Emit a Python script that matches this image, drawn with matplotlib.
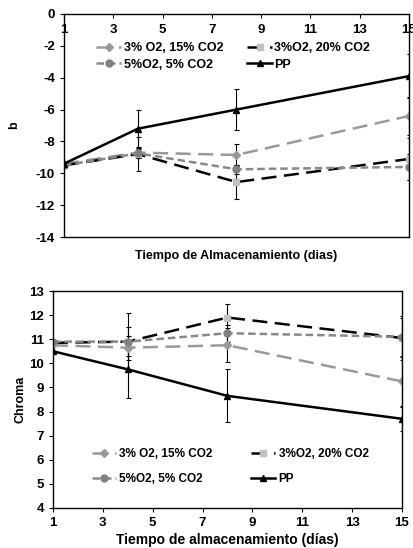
import matplotlib.pyplot as plt

plt.rcParams['font.family'] = ['Liberation Sans', 'DejaVu Sans']
plt.rcParams['font.weight'] = 'bold'
plt.rcParams['axes.unicode_minus'] = False

# Storage days
dias = [1, 4, 8, 15]

series = ['3% O2, 15% CO2', '3%O2, 20% CO2', '5%O2, 5% CO2', 'PP']

# b values
b_15 = [-9.4, -8.7, -8.85, -6.4]
b_20 = [-9.5, -8.8, -10.55, -9.1]
b_5 = [-9.5, -8.75, -9.75, -9.6]
b_pp = [-9.4, -7.2, -6.0, -3.9]
b_err_15 = [0, 0.35, 0.7, 1.2]
b_err_20 = [0, 1.05, 1.05, 1.3]
b_err_5 = [0, 0.3, 0.3, 0.8]
b_err_pp = [0, 1.2, 1.3, 1.4]

# Chroma values
c_15 = [10.75, 10.65, 10.75, 9.25]
c_20 = [10.85, 10.9, 11.9, 11.05]
c_5 = [10.9, 10.9, 11.25, 11.1]
c_pp = [10.5, 9.75, 8.65, 7.7]
c_err_15 = [0, 0.5, 0.7, 1.0]
c_err_20 = [0, 1.2, 0.55, 0.9]
c_err_5 = [0, 0.6, 0.35, 0.8]
c_err_pp = [0, 1.2, 1.1, 0.5]

styles = [
    dict(color='#999999', ls=(0, (6, 3)), marker='D', ms=4, mfc='#999999', mec='#999999'),
    dict(color='black', ls=(0, (6, 3)), marker='s', ms=5, mfc='#c0c0c0', mec='#c0c0c0'),
    dict(color='#888888', ls=(0, (3, 1.6)), marker='o', ms=5, mfc='#808080', mec='#808080'),
    dict(color='black', ls='-', marker='^', ms=5, mfc='black', mec='black'),
]

fig = plt.figure(figsize=(4.14, 5.48), dpi=100)
W, H = 414, 548


def draw(ax, ys, errs):
    lines = []
    for y, e, st, lab in zip(ys, errs, styles, series):
        c = ax.errorbar(dias, y, yerr=e, ecolor='black', elinewidth=0.8, capsize=1.8,
                        capthick=0.8, lw=1.8, label=lab, **st)
        lines.append(c.lines[0])
    for s in ax.spines.values():
        s.set_linewidth(1.0)
    ax.tick_params(labelsize=9.5, width=0.8)
    # legend filled row by row like the original
    order = [0, 2, 1, 3]
    return [lines[i] for i in order], [series[i] for i in order]


# Top chart: b
ax1 = fig.add_axes([64 / W, 1 - 237 / H, 345 / W, 223 / H])
h, l = draw(ax1, [b_15, b_20, b_5, b_pp], [b_err_15, b_err_20, b_err_5, b_err_pp])
ax1.set_xlim(1, 15)
ax1.set_ylim(-14, 0)
ax1.set_yticks(range(-14, 1, 2))
ax1.set_xticks(range(1, 16, 2))
ax1.xaxis.tick_top()
ax1.tick_params(axis='x', direction='in', length=3, pad=-16)
ax1.tick_params(axis='y', direction='out', length=3)
ax1.set_ylabel('b', fontsize=9, fontweight='bold', labelpad=11)
ax1.text(0.5, -0.085, 'Tiempo de Almacenamiento (dias)', transform=ax1.transAxes,
         ha='center', va='center', fontsize=9, fontweight='bold')
ax1.legend(h, l, ncol=2, frameon=False, fontsize=9, loc='upper left',
           bbox_to_anchor=(90 / W, 1 - 36 / H), bbox_transform=fig.transFigure,
           borderpad=0, handlelength=2.0, handletextpad=0.2,
           columnspacing=1.9, labelspacing=0.35)

# Bottom chart: Chroma
ax2 = fig.add_axes([53 / W, 1 - 508 / H, 349 / W, 217 / H])
h, l = draw(ax2, [c_15, c_20, c_5, c_pp], [c_err_15, c_err_20, c_err_5, c_err_pp])
ax2.set_xlim(1, 15)
ax2.set_ylim(4, 13)
ax2.set_xticks(range(1, 16, 2))
ax2.set_yticks(range(4, 14))
ax2.tick_params(direction='out', length=3)
ax2.set_ylabel('Chroma', fontsize=9, fontweight='bold', labelpad=2)
ax2.set_xlabel('Tiempo de almacenamiento (días)', fontsize=10, fontweight='bold', labelpad=3)
ax2.legend(h, l, ncol=2, frameon=False, fontsize=8.5, loc='upper left',
           bbox_to_anchor=(86 / W, 1 - 442 / H), bbox_transform=fig.transFigure,
           borderpad=0, handlelength=2.0, handletextpad=0.3,
           columnspacing=3.3, labelspacing=1.1)

fig.savefig('out.png', dpi=100)
